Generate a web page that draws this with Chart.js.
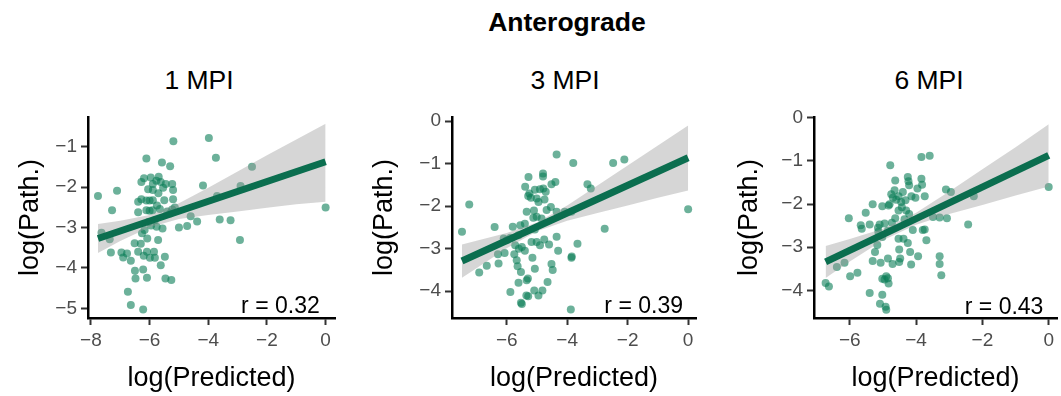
<!DOCTYPE html>
<html>
<head>
<meta charset="utf-8">
<script src="https://cdn.jsdelivr.net/npm/chart.js@4.4.0/dist/chart.umd.min.js"></script>
<style>
  body { margin: 0; background: #fff; font-family: "Liberation Sans", Arial, sans-serif; }
  #wrap { position: relative; width: 1061px; height: 396px; overflow: hidden; }
  canvas { position: absolute; top: 0; }
  .ttl { position: absolute; transform: translate(-50%, -50%); white-space: nowrap; font-size: 26.5px; color: #000; }
</style>
</head>
<body>
<div id="wrap">
  <div class="ttl" style="left:567px; top:22px; font-weight:bold;">Anterograde</div>
  <div class="ttl" style="left:199px; top:80px;">1 MPI</div>
  <div class="ttl" style="left:565px; top:80px;">3 MPI</div>
  <div class="ttl" style="left:929px; top:80px;">6 MPI</div>
  <canvas id="c1" width="345" height="396" style="left:0px"></canvas>
  <canvas id="c2" width="345" height="396" style="left:355px"></canvas>
  <canvas id="c3" width="341" height="396" style="left:720px"></canvas>
</div>
<script>
// ---- data ----
const mpi1X = [-7.76,-7.11,-7.28,-7.64,-7.36,-7.32,-6.96,-6.90,-6.77,-6.64,-6.50,-6.48,-6.74,-6.64,-6.22,-6.09,-6.22,-6.39,-6.09,-5.85,-5.99,-5.82,-6.08,-6.26,-6.51,-5.62,-5.48,-5.46,-5.26,-5.71,-5.56,-5.76,-5.82,-6.04,-6.17,-6.39,-6.28,-6.11,-6.00,-5.89,-6.00,-6.39,-6.11,-5.90,-5.65,-5.50,-5.20,-5.14,-5.23,-6.28,-6.19,-5.96,-5.89,-5.77,-5.69,-5.62,-5.54,-5.45,-5.20,-5.23,-5.89,-6.11,-5.58,-5.30,-5.19,-3.98,-3.74,-2.51,-4.18,-2.90,-3.70,-3.61,-3.24,-2.92,-5.00,-4.72,-4.38,-4.60,0,-5.75,-5.95,-6.30,-5.70,-6.05,-5.40,-6.20,-5.30];
const mpi1Y = [-2.22,-2.09,-2.57,-3.13,-3.29,-3.62,-3.62,-3.74,-3.64,-3.82,-4.07,-4.26,-4.59,-4.92,-5.03,-4.24,-4.04,-3.60,-3.60,-3.60,-3.75,-3.75,-3.27,-3.14,-3.39,-3.93,-3.72,-4.26,-4.30,-3.31,-3.02,-2.98,-2.82,-2.86,-3.06,-2.36,-2.30,-2.33,-2.33,-2.32,-2.58,-2.62,-2.57,-2.57,-2.54,-2.32,-2.30,-2.50,-2.55,-1.87,-1.78,-1.76,-1.92,-1.84,-1.74,-1.87,-2.01,-1.92,-2.07,-1.92,-2.07,-1.29,-1.39,-1.48,-0.86,-0.78,-1.27,-1.49,-1.96,-1.97,-2.22,-2.80,-2.82,-3.31,-3.00,-2.96,-2.85,-2.72,-2.50,-2.45,-2.95,-3.40,-2.15,-2.05,-2.60,-3.70,-2.65];

const mpi3X = [-7.24,-7.48,-6.91,-6.66,-6.40,-6.29,-6.27,-6.07,-6.10,-5.88,-5.80,-5.55,-5.61,-5.72,-5.75,-5.67,-5.64,-5.53,-5.61,-5.88,-5.53,-5.34,-5.29,-5.09,-5.07,-5.15,-4.82,-4.65,-4.52,-4.48,-4.35,-4.30,-3.86,-3.88,-3.66,-2.76,-5.18,-5.01,-4.90,-4.76,-5.07,-5.01,-5.12,-4.85,-4.68,-4.54,-4.35,-5.34,-5.40,-5.29,-5.07,-5.01,-4.79,-4.71,-4.75,-4.52,-4.39,-5.39,-5.28,-4.80,-4.80,-4.35,-3.80,-3.33,-3.22,-2.48,-2.11,0,-3.86,-4.08,-5.50,-3.85,-5.35,-5.50,-5.10,-5.20,-4.95,-5.60,-4.90,-5.25,-4.60,-5.40,-4.95,-5.30,-6.00];
const mpi3Y = [-1.96,-2.60,-3.56,-3.40,-2.49,-3.13,-3.35,-3.10,-2.76,-2.74,-2.48,-2.45,-2.68,-2.92,-3.13,-3.27,-3.41,-3.55,-3.80,-4.02,-4.27,-3.74,-4.12,-3.98,-3.47,-3.21,-3.98,-3.78,-3.36,-3.50,-2.72,-3.05,-3.21,-4.43,-2.88,-2.53,-2.84,-2.84,-2.92,-2.78,-2.55,-2.25,-2.27,-2.29,-2.09,-2.02,-2.13,-2.13,-2.41,-1.76,-1.61,-1.82,-1.58,-1.66,-1.84,-1.48,-1.43,-1.54,-1.31,-1.23,-1.30,-0.78,-0.98,-1.48,-1.58,-0.98,-0.90,-2.07,-2.13,-2.13,-2.96,-3.18,-4.10,-4.30,-2.10,-1.80,-1.90,-3.00,-1.60,-1.70,-2.90,-3.05,-4.10,-3.70,-2.80];

const mpi6X = [-6.73,-6.63,-6.39,-6.16,-5.99,-5.77,-6.03,-5.67,-5.64,-5.52,-5.40,-5.31,-5.40,-5.17,-5.10,-5.14,-5.02,-4.83,-5.24,-5.31,-5.07,-4.85,-4.71,-5.02,-4.90,-4.83,-5.02,-5.09,-4.92,-4.90,-5.02,-4.85,-4.73,-4.63,-4.51,-4.53,-4.38,-4.25,-4.51,-4.48,-4.15,-4.18,-3.94,-3.74,-3.69,-3.29,-3.29,-3.24,-3.49,-3.29,-3.07,-2.43,-4.78,-3.84,-3.59,-4.63,-4.25,-4.23,-4.21,-3.84,-3.82,-4.65,-4.75,-4.53,-4.40,-4.32,-4.14,-4.02,-3.96,-3.74,-4.80,-4.43,-4.53,-4.30,-4.21,-3.10,-2.95,-2.26,0,-4.60,-4.70,-4.35,-4.95,-4.85,-4.95,-5.15,-4.45,-4.10,-3.80];
const mpi6Y = [-3.83,-3.91,-3.46,-3.36,-3.67,-3.59,-2.33,-2.49,-2.57,-2.20,-2.47,-2.00,-4.06,-2.95,-2.47,-2.64,-2.05,-2.03,-3.11,-3.32,-3.36,-3.26,-3.39,-3.73,-3.67,-3.84,-4.10,-4.31,-4.38,-4.45,-2.76,-2.62,-2.43,-2.33,-3.34,-2.80,-2.80,-2.90,-3.05,-3.26,-3.40,-3.11,-3.21,-2.59,-2.84,-3.21,-3.39,-3.65,-2.30,-2.31,-2.33,-2.47,-1.10,-0.91,-0.88,-1.45,-1.37,-1.47,-1.56,-1.41,-1.55,-1.68,-1.77,-1.82,-1.72,-1.91,-1.82,-1.85,-1.64,-1.82,-2.00,-2.07,-2.15,-2.15,-2.23,-1.66,-1.72,-1.82,-1.60,-1.90,-1.85,-2.35,-2.45,-3.72,-3.75,-2.55,-1.95,-2.60,-2.60];

// fitted line and confidence band (read at a few x positions)
const mpi1FitX = [-7.76, 0];
const mpi1FitY = [-3.27, -1.37];
const mpi1BandX = [-7.76, -7, -6, -5, -4, -3, -2, -1, 0];
const mpi1BandHi = [-2.91, -2.83, -2.69, -2.40, -2.01, -1.61, -1.21, -0.82, -0.43];
const mpi1BandLo = [-3.63, -3.33, -2.99, -2.79, -2.69, -2.60, -2.51, -2.42, -2.36];

const mpi3FitX = [-7.48, 0];
const mpi3FitY = [-3.29, -0.86];
const mpi3BandX = [-7.48, -7, -6, -5, -4, -3, -2, -1, 0];
const mpi3BandHi = [-2.90, -2.81, -2.63, -2.38, -1.98, -1.51, -1.04, -0.57, -0.10];
const mpi3BandLo = [-3.68, -3.46, -2.99, -2.59, -2.34, -2.16, -1.98, -1.80, -1.63];

const mpi6FitX = [-6.73, 0];
const mpi6FitY = [-3.34, -0.87];
const mpi6BandX = [-6.73, -6, -5, -4, -3, -2, -1, 0];
const mpi6BandHi = [-2.97, -2.81, -2.57, -2.20, -1.71, -1.19, -0.68, -0.15];
const mpi6BandLo = [-3.71, -3.33, -2.84, -2.48, -2.23, -2.02, -1.80, -1.59];

const xTicks1 = [-8, -6, -4, -2, 0];
const xTicks3 = [-6, -4, -2, 0];
const xTicks6 = [-6, -4, -2, 0];
const yTicks1 = [-5, -4, -3, -2, -1];
const yTicks3 = [-4, -3, -2, -1, 0];
const yTicks6 = [-4, -3, -2, -1, 0];

const rLabels = ['r = 0.32', 'r = 0.39', 'r = 0.43'];

// ---- drawing ----
const FONT = '"Liberation Sans", Arial, sans-serif';
const zip = (xs, ys) => xs.map((x, i) => ({x: x, y: ys[i]}));
const minus = v => v < 0 ? '\u2212' + Math.abs(v) : String(v);

const rLabel = {
  id: 'rLabel',
  afterDatasetsDraw(chart, args, opts) {
    const {ctx, scales} = chart;
    ctx.save();
    ctx.font = '23px ' + FONT;
    ctx.fillStyle = '#000';
    ctx.textAlign = 'right';
    ctx.textBaseline = 'alphabetic';
    ctx.fillText(opts.text, scales.x.getPixelForValue(opts.x), scales.y.getPixelForValue(opts.y));
    ctx.restore();
  }
};

function panel(id, p) {
  new Chart(document.getElementById(id), {
    type: 'scatter',
    data: {
      datasets: [
        {
          data: zip(p.px, p.py),
          backgroundColor: 'rgba(10,125,86,0.6)',
          borderWidth: 0,
          pointRadius: 4,
          order: 3
        },
        {
          type: 'line',
          data: zip(p.bandX, p.bandHi),
          borderWidth: 0,
          pointRadius: 0,
          backgroundColor: 'rgba(153,153,153,0.4)',
          fill: '+1',
          order: 2
        },
        {
          type: 'line',
          data: zip(p.bandX, p.bandLo),
          borderWidth: 0,
          pointRadius: 0,
          fill: false,
          order: 2
        },
        {
          type: 'line',
          data: zip(p.fitX, p.fitY),
          borderColor: '#0b6e4f',
          borderWidth: 7,
          borderCapStyle: 'butt',
          pointRadius: 0,
          fill: false,
          order: 1
        }
      ]
    },
    options: {
      responsive: false,
      animation: false,
      layout: { padding: { top: 117, right: p.padRight, bottom: 0, left: 0 } },
      plugins: {
        legend: { display: false },
        tooltip: { enabled: false },
        rLabel: { text: p.r, x: p.rx, y: p.ry }
      },
      scales: {
        x: {
          type: 'linear',
          min: p.xMin, max: p.xMax,
          afterBuildTicks: s => { s.ticks = p.xTicks.map(v => ({value: v})); },
          afterFit: s => { s.height = 78; },
          grid: { display: true, drawOnChartArea: false, drawTicks: true, tickLength: 7, tickColor: '#333', tickWidth: 2 },
          border: { display: true, color: '#000', width: 2.5 },
          ticks: { color: '#4d4d4d', font: { family: FONT, size: 19 }, padding: 4, callback: minus, maxRotation: 0 },
          title: { display: true, text: 'log(Predicted)', color: '#000', font: { family: FONT, size: 27 }, padding: { top: 0, bottom: 1 } }
        },
        y: {
          type: 'linear',
          min: p.yMin, max: p.yMax,
          afterBuildTicks: s => { s.ticks = p.yTicks.map(v => ({value: v})); },
          afterFit: s => { s.width = p.yAxisW; },
          grid: { display: true, drawOnChartArea: false, drawTicks: true, tickLength: 7, tickColor: '#333', tickWidth: 2 },
          border: { display: true, color: '#000', width: 2.5 },
          ticks: { color: '#4d4d4d', font: { family: FONT, size: 19 }, padding: 4, callback: minus },
          title: { display: true, text: 'log(Path.)', color: '#000', font: { family: FONT, size: 27 }, padding: { top: p.titlePad, bottom: 0 } }
        }
      }
    },
    plugins: [rLabel]
  });
}

panel('c1', {
  px: mpi1X, py: mpi1Y, fitX: mpi1FitX, fitY: mpi1FitY,
  bandX: mpi1BandX, bandHi: mpi1BandHi, bandLo: mpi1BandLo,
  xTicks: xTicks1, yTicks: yTicks1,
  xMin: -8.1, xMax: 0.32, yMin: -5.24, yMax: -0.26,
  yAxisW: 88, padRight: 10, titlePad: 14,
  r: rLabels[0], rx: -0.2, ry: -5.12
});
panel('c2', {
  px: mpi3X, py: mpi3Y, fitX: mpi3FitX, fitY: mpi3FitY,
  bandX: mpi3BandX, bandHi: mpi3BandHi, bandLo: mpi3BandLo,
  xTicks: xTicks3, yTicks: yTicks3,
  xMin: -7.81, xMax: 0.26, yMin: -4.63, yMax: 0.1,
  yAxisW: 97, padRight: 3, titlePad: 13,
  r: rLabels[1], rx: -0.17, ry: -4.52
});
panel('c3', {
  px: mpi6X, py: mpi6Y, fitX: mpi6FitX, fitY: mpi6FitY,
  bandX: mpi6BandX, bandHi: mpi6BandHi, bandLo: mpi6BandLo,
  xTicks: xTicks6, yTicks: yTicks6,
  xMin: -7.08, xMax: 0.25, yMin: -4.64, yMax: 0.02,
  yAxisW: 94, padRight: 0, titlePad: 13,
  r: rLabels[2], rx: -0.16, ry: -4.54
});
</script>
</body>
</html>
